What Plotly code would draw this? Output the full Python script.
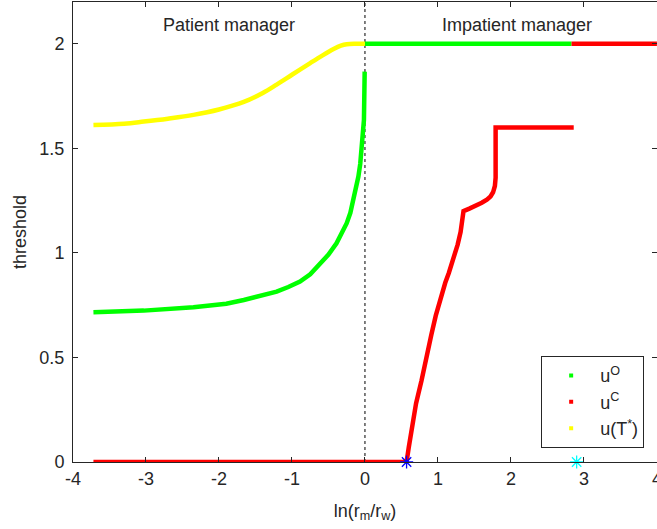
import plotly.graph_objects as go

# ---- data ----
# u^O (green): patient branch (x<0) and flat branch at 2
uO_x = [-3.72, -3.03, -2.35, -1.90, -1.66, -1.40, -1.21, -1.05, -0.89, -0.75, -0.62, -0.50, -0.39, -0.30,
        -0.25, -0.20, -0.16, -0.12, -0.09, -0.065, -0.045, -0.028, -0.014, -0.004]
uO_y = [0.716, 0.724, 0.740, 0.757, 0.775, 0.795, 0.815, 0.837, 0.863, 0.898, 0.943, 0.992, 1.046, 1.103,
        1.142, 1.192, 1.254, 1.310, 1.365, 1.425, 1.493, 1.560, 1.636, 1.867]
uO_flat_x = [0.0, 2.83]
uO_flat_y = [2.0, 2.0]

# u^C (red): zero branch, rising branch, flat 1.6, then flat 2
uC_x = [-3.72, 0.57, 0.60, 0.65, 0.70, 0.775, 0.82, 0.87, 0.91, 0.97, 1.03, 1.065, 1.10, 1.15, 1.21, 1.27,
        1.31, 1.335, 1.35, 1.43, 1.52, 1.60, 1.67, 1.72, 1.755, 1.78, 1.79, 1.79, 2.86]
uC_y = [0.0, 0.0, 0.07, 0.18, 0.28, 0.39, 0.47, 0.55, 0.61, 0.70, 0.78, 0.825, 0.857, 0.905, 0.97, 1.04,
        1.10, 1.16, 1.20, 1.212, 1.225, 1.24, 1.255, 1.27, 1.29, 1.32, 1.36, 1.6, 1.6]
uC_high_x = [2.83, 4.0]
uC_high_y = [2.0, 2.0]

# u(T*) (yellow)
uT_x = [-3.72, -3.30, -3.03, -2.70, -2.35, -2.00, -1.66, -1.40, -1.21, -1.00, -0.75, -0.58, -0.43,
        -0.33, -0.25, -0.12, 0.0]
uT_y = [1.612, 1.618, 1.628, 1.642, 1.660, 1.686, 1.722, 1.765, 1.805, 1.852, 1.908, 1.945, 1.975,
        1.991, 1.998, 2.0, 2.0]

# star markers
star_blue = (0.57, 0.0)
star_cyan = (2.90, 0.0)

x_ticks = [-4, -3, -2, -1, 0, 1, 2, 3, 4]
x_ticktext = ["-4", "-3", "-2", "-1", "0", "1", "2", "3", "4"]
y_ticks = [0, 0.5, 1, 1.5, 2]
y_ticktext = ["0", "0.5", "1", "1.5", "2"]

GREEN = "#00ff00"
RED = "#ff0000"
YELLOW = "#ffff00"
FONT = "Liberation Sans, Arial, sans-serif"
AX = "#262626"
LW = 4.5
FS = 18

fig = go.Figure()

# vertical dotted line at x=0
fig.add_shape(type="line", x0=0, x1=0, y0=0, y1=2.2, xref="x", yref="y",
              line=dict(color="#000000", width=1, dash="dot"), layer="below")

fig.add_trace(go.Scatter(x=uT_x, y=uT_y, mode="lines", line=dict(color=YELLOW, width=LW, shape="spline"),
                         showlegend=False))
fig.add_trace(go.Scatter(x=uO_x, y=uO_y, mode="lines", line=dict(color=GREEN, width=LW),
                         showlegend=False))
fig.add_trace(go.Scatter(x=uO_flat_x, y=uO_flat_y, mode="lines", line=dict(color=GREEN, width=LW),
                         showlegend=False))
fig.add_trace(go.Scatter(x=uC_x, y=uC_y, mode="lines", line=dict(color=RED, width=LW),
                         showlegend=False))
fig.add_trace(go.Scatter(x=uC_high_x, y=uC_high_y, mode="lines", line=dict(color=RED, width=LW),
                         showlegend=False))

fig.add_trace(go.Scatter(x=[star_blue[0]], y=[star_blue[1]], mode="markers",
                         marker=dict(symbol="asterisk-open", size=11, color="#0000ff",
                                     line=dict(color="#0000ff", width=1.3)),
                         showlegend=False, cliponaxis=False))
fig.add_trace(go.Scatter(x=[star_cyan[0]], y=[star_cyan[1]], mode="markers",
                         marker=dict(symbol="asterisk-open", size=11, color="#00ffff",
                                     line=dict(color="#00ffff", width=1.3)),
                         showlegend=False, cliponaxis=False))

# legend entries (dot markers as in the original)
for name, col in [("u<sup>O</sup>", GREEN), ("u<sup>C</sup>", RED), ("u(T<sup>*</sup>)", YELLOW)]:
    fig.add_trace(go.Scatter(x=[None], y=[None], mode="markers", name=name,
                             marker=dict(symbol="square", size=4, color=col)))

fig.add_annotation(x=-2.80, y=2.09, xref="x", yref="y", text="Patient manager", showarrow=False,
                   xanchor="left", yanchor="middle", font=dict(size=FS, color=AX, family=FONT))
fig.add_annotation(x=1.03, y=2.09, xref="x", yref="y", text="Impatient manager", showarrow=False,
                   xanchor="left", yanchor="middle", font=dict(size=FS, color=AX, family=FONT))

fig.update_layout(
    width=657, height=529,
    margin=dict(l=73, r=0, t=2, b=67, autoexpand=False),
    paper_bgcolor="white", plot_bgcolor="white",
    font=dict(family=FONT, size=FS, color=AX),
    legend=dict(x=0.978, y=0.03, xanchor="right", yanchor="bottom",
                bordercolor=AX, borderwidth=1, bgcolor="white",
                font=dict(size=FS, color=AX, family=FONT), itemwidth=48),
    xaxis=dict(range=[-4, 4.001], tickvals=x_ticks, ticktext=x_ticktext, ticks="inside", ticklen=5,
               showline=True, linecolor=AX, linewidth=1, mirror="ticks", showgrid=False,
               zeroline=False, tickcolor=AX, ticklabeloverflow="allow", automargin=False,
               title=dict(text="ln(r<sub>m</sub>/r<sub>w</sub>)", standoff=16,
                          font=dict(size=FS, color=AX, family=FONT))),
    yaxis=dict(range=[0, 2.2], tickvals=y_ticks, ticktext=y_ticktext, ticks="inside", ticklen=5,
               showline=True, linecolor=AX, linewidth=1, mirror="ticks", showgrid=False,
               zeroline=False, tickcolor=AX, ticklabelstandoff=4, automargin=False,
               title=dict(text="threshold", standoff=8,
                          font=dict(size=FS, color=AX, family=FONT))),
)

post = (
    "document.documentElement.style.overflow='hidden';"
    "document.body.style.margin='0';"
    "document.body.style.overflow='hidden';"
    "var g=document.querySelector('.plotly-graph-div');"
    "if(g){g.style.overflow='hidden';}"
)
fig.write_html("out.html", config={"displayModeBar": False}, post_script=post)
